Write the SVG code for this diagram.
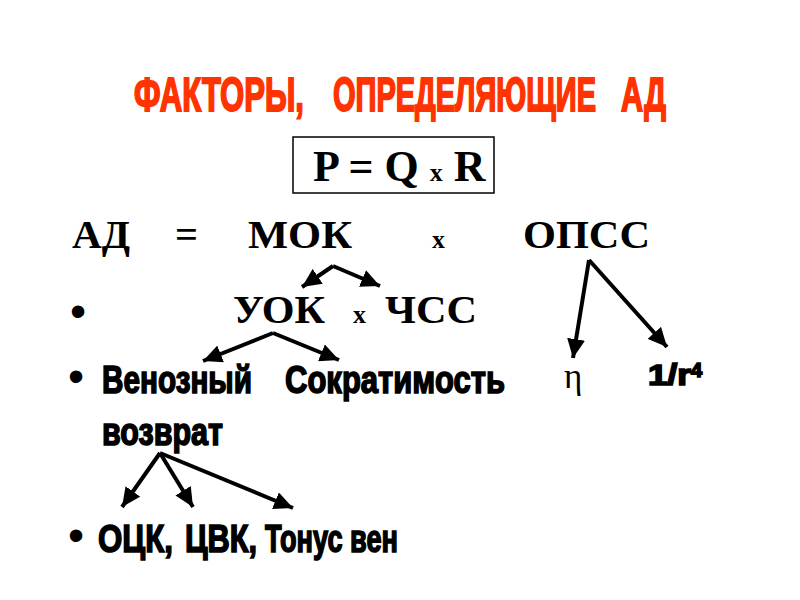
<svg xmlns="http://www.w3.org/2000/svg" width="800" height="600" viewBox="0 0 800 600">
  <defs>
    <style>
      .title { font-family: "Liberation Sans Narrow", "Liberation Sans", Arial, sans-serif; font-weight: bold; font-size: 48px; fill: #FF3300; stroke: #FF3300; stroke-width: 2px; }
      .serif { font-family: "Liberation Serif", "Times New Roman", serif; font-weight: bold; font-size: 40px; fill: #000; }
      .sx { font-family: "Liberation Serif", "Times New Roman", serif; font-weight: bold; font-size: 26px; fill: #000; }
      .imp { font-family: "Liberation Sans Narrow", "Liberation Sans", Arial, sans-serif; font-weight: bold; font-size: 38px; fill: #000; stroke: #000; stroke-width: 1.6px; }
      .bul { font-family: "Liberation Sans", Arial, sans-serif; font-size: 46px; fill: #000; }
      .eta { font-family: "Liberation Serif", "Times New Roman", serif; font-size: 35px; fill: #000; }
      .conn line { stroke: #000; stroke-width: 4; marker-end: url(#arr); }
    </style>
    <marker id="arr" markerUnits="userSpaceOnUse" markerWidth="20" markerHeight="18" refX="19" refY="9" orient="auto">
      <path d="M0,0 L19,9 L0,18 Z" fill="#000"/>
    </marker>
  </defs>
  <rect width="800" height="600" fill="#fff"/>

  <g id="title">
    <text class="title" transform="translate(134,111) scale(0.65,1)" textLength="261.5" lengthAdjust="spacingAndGlyphs">ФАКТОРЫ,</text>
    <text class="title" transform="translate(333,111) scale(0.65,1)" textLength="404.6" lengthAdjust="spacingAndGlyphs">ОПРЕДЕЛЯЮЩИЕ</text>
    <text class="title" transform="translate(621,111) scale(0.65,1)" textLength="69.2" lengthAdjust="spacingAndGlyphs">АД</text>
  </g>

  <g id="formula">
    <rect x="293" y="137" width="201" height="56" fill="none" stroke="#000" stroke-width="1.5"/>
    <text class="serif" x="313" y="181" style="font-size:44px">P = Q <tspan style="font-size:26px">x</tspan> R</text>
  </g>

  <g id="line-ad">
    <text class="serif" x="72" y="248" textLength="58" lengthAdjust="spacingAndGlyphs">АД</text>
    <text class="serif" x="175" y="248" textLength="23" lengthAdjust="spacingAndGlyphs">=</text>
    <text class="serif" x="248" y="248" textLength="104" lengthAdjust="spacingAndGlyphs">МОК</text>
    <text class="sx" x="432" y="248">x</text>
    <text class="serif" x="523" y="248" textLength="127" lengthAdjust="spacingAndGlyphs">ОПСС</text>
  </g>

  <g id="line-uok">
    <text class="bul" x="78" y="327" text-anchor="middle">•</text>
    <text class="serif" x="233" y="323" textLength="92" lengthAdjust="spacingAndGlyphs">УОК</text>
    <text class="sx" x="353" y="323">x</text>
    <text class="serif" x="385" y="323" textLength="92" lengthAdjust="spacingAndGlyphs">ЧСС</text>
  </g>

  <g id="line-ven">
    <text class="bul" x="76" y="392" text-anchor="middle">•</text>
    <text class="imp" transform="translate(102,393) scale(0.75,1)" textLength="200" lengthAdjust="spacingAndGlyphs">Венозный</text>
    <text class="imp" transform="translate(285,393) scale(0.75,1)" textLength="293.3" lengthAdjust="spacingAndGlyphs">Сократимость</text>
    <text class="eta" x="564" y="388">η</text>
    <text class="imp" x="648" y="385" style="font-size:29px" textLength="43" lengthAdjust="spacingAndGlyphs">1/r</text>
    <text class="imp" x="691" y="377" style="font-size:20px">4</text>
    <text class="imp" transform="translate(102,445) scale(0.75,1)" textLength="161.3" lengthAdjust="spacingAndGlyphs">возврат</text>
  </g>

  <g id="line-ock">
    <text class="bul" x="76" y="551" text-anchor="middle">•</text>
    <text class="imp" transform="translate(98,552) scale(0.7,1)" textLength="107" lengthAdjust="spacingAndGlyphs">ОЦК,</text>
    <text class="imp" transform="translate(185,552) scale(0.7,1)" textLength="103" lengthAdjust="spacingAndGlyphs">ЦВК,</text>
    <text class="imp" transform="translate(265,552) scale(0.7,1)" textLength="190" lengthAdjust="spacingAndGlyphs">Тонус вен</text>
  </g>

  <g id="connectors" class="conn">
    <line x1="333" y1="266" x2="302" y2="287"/>
    <line x1="333" y1="266" x2="380" y2="286"/>
    <line x1="273" y1="333" x2="203" y2="361"/>
    <line x1="273" y1="333" x2="339" y2="360"/>
    <line x1="589" y1="260" x2="573" y2="358"/>
    <line x1="589" y1="260" x2="667" y2="347"/>
    <line x1="160" y1="453" x2="122" y2="507"/>
    <line x1="160" y1="453" x2="193" y2="507"/>
    <line x1="160" y1="453" x2="293" y2="508"/>
  </g>
</svg>
